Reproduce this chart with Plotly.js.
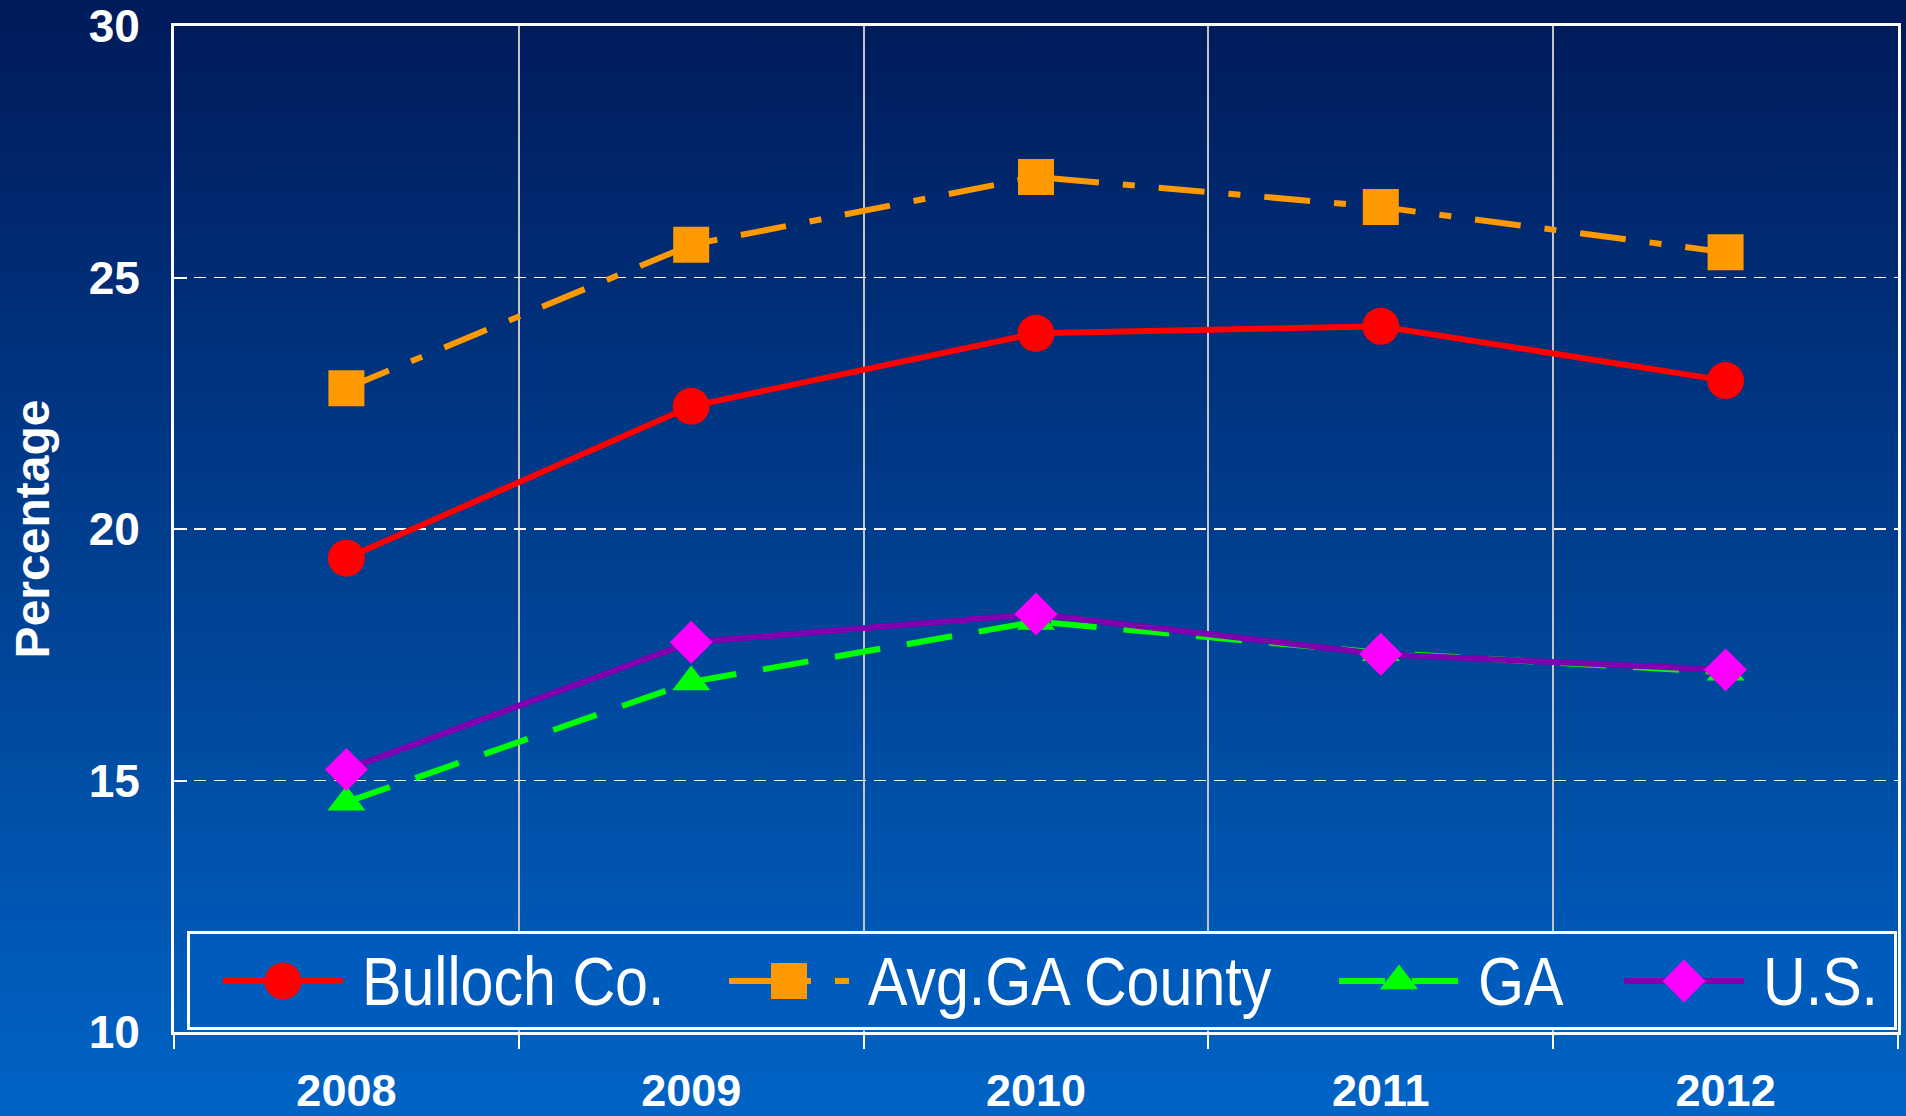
<!DOCTYPE html>
<html>
<head>
<meta charset="utf-8">
<script src="https://cdn.plot.ly/plotly-3.0.1.min.js"></script>
<style>
  html, body { margin: 0; padding: 0; width: 1906px; height: 1116px; overflow: hidden;
    background: linear-gradient(to bottom, #001a5a 0%, #0064c6 100%); }
  #chart { width: 1906px; height: 1116px; }
</style>
</head>
<body>
<div id="chart"></div>
<script>
const years = ['2008', '2009', '2010', '2011', '2012'];
const bulloch = [19.42, 22.44, 23.89, 24.03, 22.95];
const avgGaCounty = [22.8, 25.65, 27.0, 26.4, 25.5];
const ga = [14.57, 16.96, 18.16, 17.54, 17.15];
const us = [15.22, 17.75, 18.31, 17.51, 17.2];
const seriesNames = ['Bulloch Co.', 'Avg.GA County', 'GA', 'U.S.'];
const yTicks = [10, 15, 20, 25, 30];

const traces = [
  { x: years, y: bulloch, name: seriesNames[0], type: 'scatter', mode: 'lines+markers',
    line: { color: '#ff0000', width: 6 },
    marker: { symbol: 'circle', size: 37, color: '#ff0000' } },
  { x: years, y: avgGaCounty, name: seriesNames[1], type: 'scatter', mode: 'lines+markers',
    line: { color: '#ff9900', width: 6, dash: '46px,24px,12px,24px' },
    marker: { symbol: 'square', size: 36, color: '#ff9900' } },
  { x: years, y: ga, name: seriesNames[2], type: 'scatter', mode: 'lines+markers',
    line: { color: '#00ff00', width: 6, dash: '46px,27px' },
    marker: { symbol: 'triangle-up', size: 33, color: '#00ff00' } },
  { x: years, y: us, name: seriesNames[3], type: 'scatter', mode: 'lines+markers',
    line: { color: '#8000b0', width: 6 },
    marker: { symbol: 'diamond', size: 33, color: '#ff00ff' } }
];

const layout = {
  width: 1906, height: 1116,
  paper_bgcolor: 'rgba(0,0,0,0)', plot_bgcolor: 'rgba(0,0,0,0)',
  margin: { l: 174, r: 8, t: 26, b: 84, pad: 0 },
  font: { family: 'Liberation Sans, Arial, sans-serif', color: '#ffffff' },
  showlegend: true,
  legend: {
    orientation: 'h', x: 0.0075, y: 0.003, xanchor: 'left', yanchor: 'bottom',
    bgcolor: 'rgb(0,92,188)', bordercolor: '#ffffff', borderwidth: 3,
    font: { family: 'Liberation Sans, Arial, sans-serif', size: 68, color: '#ffffff' },
    itemwidth: 120
  },
  xaxis: {
    type: 'category', range: [-0.5, 4.5], tickson: 'boundaries',
    showline: true, linecolor: '#ffffff', linewidth: 3, mirror: true,
    showgrid: true, gridcolor: '#c4c4c4', gridwidth: 2,
    ticks: 'outside', ticklen: 14, tickwidth: 2, tickcolor: '#ffffff',
    ticklabelstandoff: 17,
    tickfont: { family: 'Liberation Sans, Arial, sans-serif', size: 45, color: '#ffffff', weight: 'bold' },
    zeroline: false
  },
  yaxis: {
    range: [10, 30], tickvals: yTicks, ticktext: yTicks.map(String),
    showline: true, linecolor: '#ffffff', linewidth: 3, mirror: true,
    showgrid: true, gridcolor: '#ffffff', gridwidth: 1.5, griddash: '12px,8px',
    ticks: 'inside', ticklen: 13, tickwidth: 2, tickcolor: '#ffffff',
    ticklabelstandoff: 22,
    tickfont: { family: 'Liberation Sans, Arial, sans-serif', size: 46, color: '#ffffff', weight: 'bold' },
    zeroline: false,
    title: { text: 'Percentage', font: { family: 'Liberation Sans, Arial, sans-serif', size: 48, color: '#ffffff', weight: 'bold' }, standoff: 24 }
  }
};

// legend styling to match the original (narrow text, large symbols, wide box)
const legendLineStarts = [223, 729, 1339, 1624];
const legendTextOffset = 139;
const legendSymbolY = 981;
const legendBaselineY = 1005;
const legendBox = { left: 188, right: 1895.5, top: 932.5, bottom: 1028.5 };
const narrowScale = 0.87;

Plotly.newPlot('chart', traces, layout, { displayModeBar: false, staticPlot: true }).then(gd => {
  const legendG = gd.querySelector('g.legend');
  if (!legendG) return;
  legendG.querySelectorAll('[clip-path]').forEach(e => e.removeAttribute('clip-path'));
  const items = legendG.querySelectorAll('g.traces');
  const plotTraces = gd.querySelectorAll('.scatterlayer g.trace');
  items.forEach((item, i) => {
    const line = item.querySelector('.legendlines path');
    const m = /translate\(\s*([-\d.e]+)[ ,]+([-\d.e]+)\s*\)/.exec(item.getAttribute('transform') || 'translate(0,0)');
    let tx = m ? +m[1] : 0, ty = m ? +m[2] : 0;
    if (line) {
      const r = line.getBoundingClientRect();
      tx += legendLineStarts[i] - r.left;
      ty += legendSymbolY - (r.top + r.height / 2);
      item.setAttribute('transform', 'translate(' + tx + ',' + ty + ')');
    }
    const pt = item.querySelector('.legendpoints path');
    const plotPt = plotTraces[i] ? plotTraces[i].querySelector('.points path') : null;
    if (pt && plotPt) {
      const k = plotPt.getBBox().width / pt.getBBox().width;
      pt.setAttribute('transform', (pt.getAttribute('transform') || '') + ' scale(' + k + ')');
    }
    const text = item.querySelector('text.legendtext');
    if (text) {
      const xAttr = +(text.getAttribute('x') || 0);
      const pm = text.parentNode.getScreenCTM();
      const desired = legendLineStarts[i] + legendTextOffset - pm.e;
      const dx = desired - narrowScale * xAttr;
      text.setAttribute('y', legendBaselineY - pm.f);
      text.setAttribute('transform', 'translate(' + dx + ',0) scale(' + narrowScale + ',1)');
    }
  });
  const bg = legendG.querySelector('rect.bg');
  if (bg) {
    const pm = bg.parentNode.getScreenCTM();
    bg.setAttribute('x', legendBox.left - pm.e);
    bg.setAttribute('y', legendBox.top - pm.f);
    bg.setAttribute('width', legendBox.right - legendBox.left);
    bg.setAttribute('height', legendBox.bottom - legendBox.top);
  }
});
</script>
</body>
</html>
